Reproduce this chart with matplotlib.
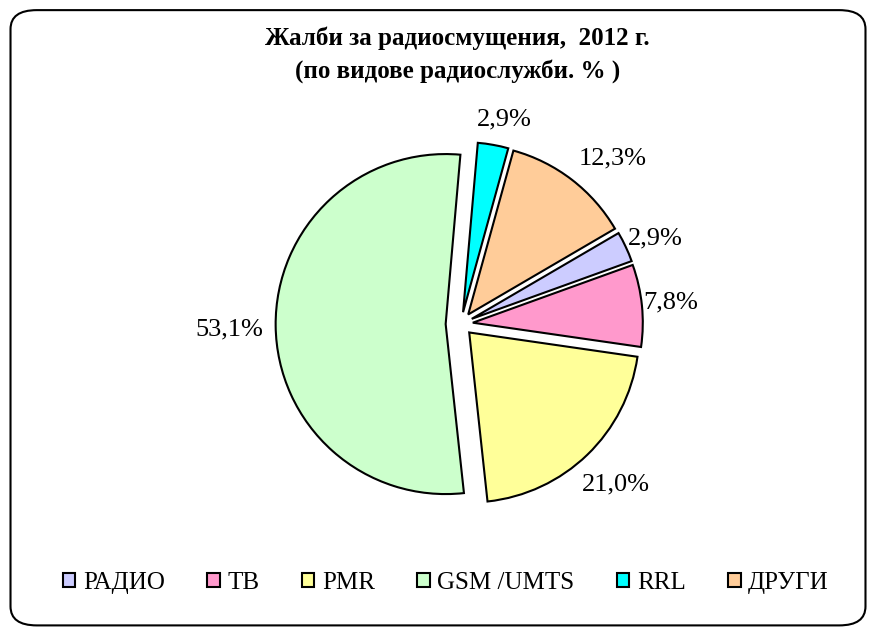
import matplotlib.pyplot as plt
import numpy as np
from matplotlib.patches import FancyBboxPatch

categories = ["РАДИО", "ТВ", "PMR", "GSM /UMTS", "RRL", "ДРУГИ"]
values = [2.9, 7.8, 21.0, 53.1, 2.9, 12.3]
explode = [0.07, 0.07, 0.07, 0.09, 0.07, 0.07]
colors = ["#CCCCFF", "#FF99CC", "#FFFF99", "#CCFFCC", "#00FFFF", "#FFCC99"]
title = "Жалби за радиосмущения,  2012 г.\n(по видове радиослужби. % )"

# label placement (radius from pie centre, angle nudge in degrees), like Excel's "outside end"
label_r = [1.25, 1.24, 1.31, 1.36, 1.23, 1.32]
label_nudge = [-1.4, 0.0, 0.0, 0.7, -1.9, -5.0]

plt.rcParams["font.family"] = ["Liberation Serif", "DejaVu Serif"]

fig = plt.figure(figsize=(8.76, 6.33), dpi=100)

# rounded frame around the whole chart
frame = FancyBboxPatch((0.012, 0.012), 0.976, 0.972,
                       boxstyle="round,pad=0,rounding_size=0.03",
                       transform=fig.transFigure, fill=False,
                       edgecolor="black", lw=1.5)
fig.patches.append(frame)

ax = fig.add_axes([0.2545, 0.1123, 0.5434, 0.752])

wedges, texts, autotexts = ax.pie(
    values,
    explode=explode,
    colors=colors,
    startangle=30.3,
    counterclock=False,
    autopct=lambda p: f"{p:.1f}%".replace(".", ","),
    pctdistance=1.3,
    wedgeprops=dict(edgecolor="black", linewidth=1.5),
    textprops=dict(fontsize=19),
)
for w, t, r, dn in zip(wedges, autotexts, label_r, label_nudge):
    ang = np.deg2rad(0.5 * (w.theta1 + w.theta2) + dn)
    t.set_position((r * np.cos(ang), r * np.sin(ang)))
    t.set_ha("center")
    t.set_va("center")

ax.set_xlim(-1.4, 1.4)
ax.set_ylim(-1.4, 1.4)
ax.set_aspect("equal")

fig.text(0.522, 0.913, title, ha="center", va="center", fontsize=18,
         fontweight="bold", linespacing=1.5)

fig.legend(wedges, categories, loc="center", bbox_to_anchor=(0.509, 0.079),
           ncol=6, frameon=False, fontsize=18, handlelength=0.5,
           handleheight=0.5, handletextpad=0.3, columnspacing=1.7)

fig.savefig("out.png", dpi=100)
